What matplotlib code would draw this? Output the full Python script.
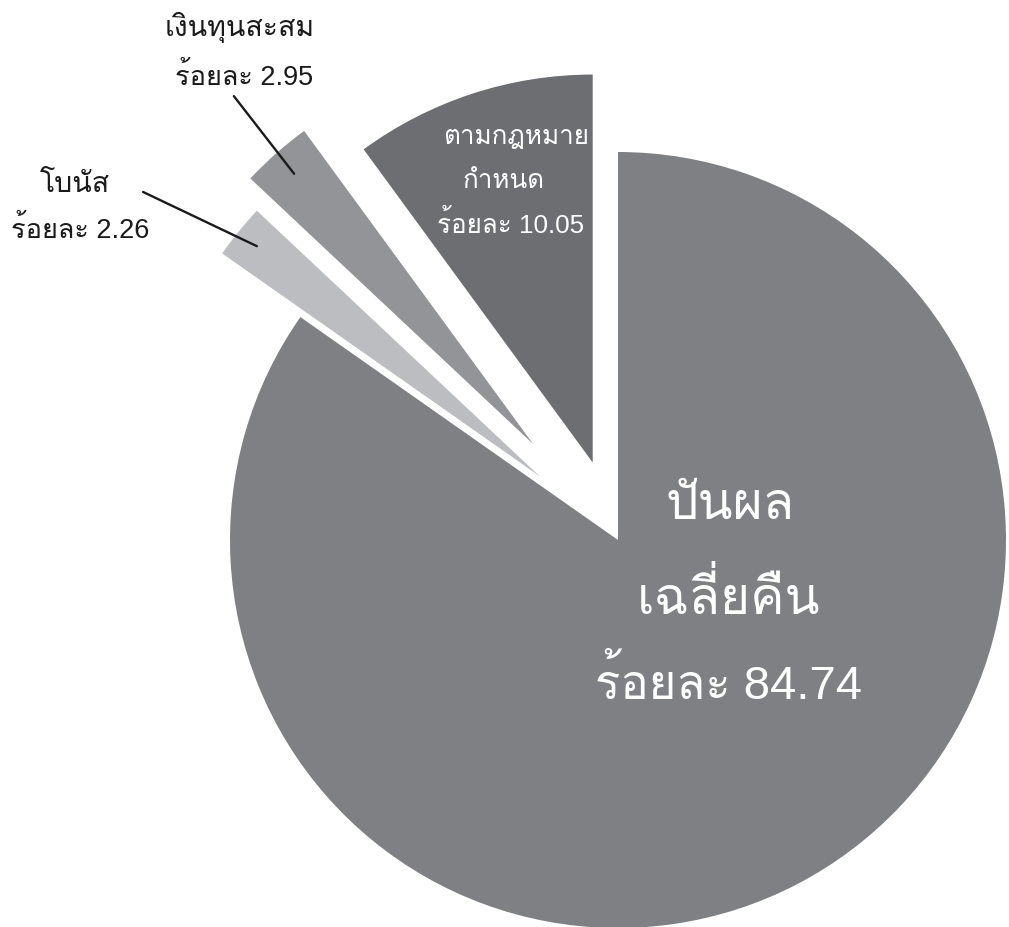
import matplotlib
matplotlib.use("Agg")
import numpy as np
import matplotlib.pyplot as plt

# Latin digits from Liberation Sans, Thai glyphs from Loma
plt.rcParams['font.family'] = ['Liberation Sans', 'Loma', 'Noto Sans Thai Looped', 'DejaVu Sans']

# slices, clockwise from 12 o'clock
labels = ['ปันผลเฉลี่ยคืน', 'โบนัส', 'เงินทุนสะสม', 'ตามกฎหมายกำหนด']
shares = [84.74, 2.26, 2.95, 10.05]
colors = ['#7f8084', '#bcbdc1', '#939498', '#6d6e72']
explode = [0.0, 0.26, 0.33, 0.21]

fig = plt.figure(figsize=(10.09, 9.27), dpi=100)
ax = fig.add_axes([0, 0, 1, 1])

wedges, _ = ax.pie(shares, colors=colors, explode=explode, startangle=90,
                   counterclock=False, radius=1.0,
                   wedgeprops=dict(linewidth=0))

# frame so that radius 1 = 388 px, centre at (618, 540) px
ax.set_xlim(-618 / 388, (1009 - 618) / 388)
ax.set_ylim(-(927 - 540) / 388, 540 / 388)
ax.set_aspect('equal')
ax.axis('off')

ink = '#1a1a1a'

# big slice label
ax.text(0.29, 0.09, 'ปันผล', color='white', fontsize=37, ha='center', va='center')
ax.text(0.285, -0.15, 'เฉลี่ยคืน', color='white', fontsize=37, ha='center', va='center')
ax.text(0.286, -0.369, 'ร้อยละ %.2f' % shares[0], color='white', fontsize=34, ha='center', va='center')

# legal reserve label
ax.text(-0.263, 1.039, 'ตามกฎหมาย', color='white', fontsize=18.7, ha='center', va='center')
ax.text(-0.296, 0.925, 'กำหนด', color='white', fontsize=18.7, ha='center', va='center')
ax.text(-0.276, 0.815, 'ร้อยละ %.2f' % shares[3], color='white', fontsize=18.7, ha='center', va='center')

# outside labels with leader lines
def leader(w, frac, xy_text):
    ang = np.deg2rad((w.theta1 + w.theta2) / 2)
    cx, cy = w.center
    p = (cx + frac * w.r * np.cos(ang), cy + frac * w.r * np.sin(ang))
    ax.annotate('', xy=p, xytext=xy_text,
                arrowprops=dict(arrowstyle='-', color=ink, lw=1.7,
                                shrinkA=0, shrinkB=0))

ax.text(-0.974, 1.322, 'เงินทุนสะสม', color=ink, fontsize=20.5, ha='center', va='center')
ax.text(-0.964, 1.193, 'ร้อยละ %.2f' % shares[2], color=ink, fontsize=19.5, ha='center', va='center')
leader(wedges[2], 0.93, (-0.990, 1.144))

ax.text(-1.399, 0.915, 'โบนัส', color=ink, fontsize=20.5, ha='center', va='center')
ax.text(-1.387, 0.799, 'ร้อยละ %.2f' % shares[1], color=ink, fontsize=19.5, ha='center', va='center')
leader(wedges[1], 0.94, (-1.224, 0.897))

fig.savefig('out.png', dpi=100)
